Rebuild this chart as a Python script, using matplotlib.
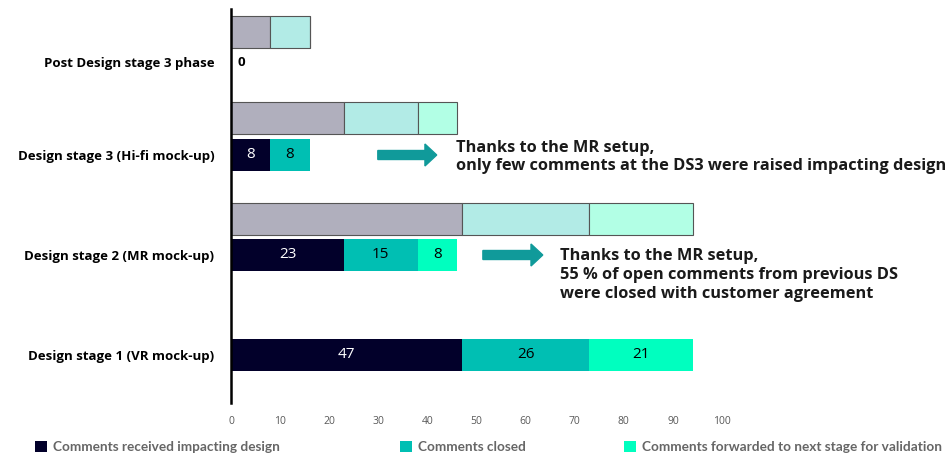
import matplotlib
matplotlib.use('Agg')
import matplotlib.pyplot as plt
from matplotlib.patches import FancyArrow, Patch

# data, bottom row first
stages = ['Design stage 1 (VR mock-up)', 'Design stage 2 (MR mock-up)',
          'Design stage 3 (Hi-fi mock-up)', 'Post Design stage 3 phase']
impacting = [47, 23, 8, 0]
closed = [26, 15, 8, 0]
forwarded = [21, 8, 0, 0]
series_names = ['Comments received impacting design', 'Comments closed',
                'Comments forwarded to next stage for validation']
notes = ['Thanks to the MR setup,\n55 % of open comments from previous DS\nwere closed with customer agreement',
         'Thanks to the MR setup,\nonly few comments at the DS3 were raised impacting design']
xticks = list(range(0, 101, 10))

# layout
row_y = [0, 1, 2, 2.93]
ghost_y = [None, 1.36, 2.37, 3.23]
bar_h = 0.32
colors = ['#02002A', '#00BFB3', '#00FFBF']
ghost_colors = ['#B0AFBD', '#B2EBE6', '#B2FFE5']
label_colors = ['white', 'black', 'black']
arrow_color = '#109A9A'
text_font = ['Open Sans', 'DejaVu Sans']
legend_font = ['Lato', 'DejaVu Sans']

fig = plt.figure(figsize=(9.52, 4.57), dpi=100)
ax = fig.add_axes([231 / 952, 54 / 457, 491 / 952, 394 / 457])

series = [impacting, closed, forwarded]

# current stage bars
left = [0] * len(stages)
for k, vals in enumerate(series):
    ax.barh(row_y, vals, left=left, height=bar_h, color=colors[k], edgecolor='none')
    for i, v in enumerate(vals):
        if v > 0:
            ax.text(left[i] + v / 2, row_y[i], str(v), ha='center', va='center',
                    fontsize=11, color=label_colors[k], family=text_font)
    left = [a + b for a, b in zip(left, vals)]

# zero label for post DS3 row
ax.text(1.3, row_y[3], str(impacting[3] + closed[3] + forwarded[3]), ha='left', va='center',
        fontsize=9.5, fontweight='bold', family=text_font, color='black')

# ghost bars: previous stage repeated above each row
gy = [ghost_y[i] for i in range(1, len(stages))]
gleft = [0] * (len(stages) - 1)
for k, vals in enumerate(series):
    prev = vals[:-1]
    ax.barh(gy, prev, left=gleft, height=bar_h, color=ghost_colors[k],
            edgecolor='#555555', linewidth=0.8)
    gleft = [a + b for a, b in zip(gleft, prev)]

# arrows + notes
ax.add_patch(FancyArrow(51.3, 1.0, 12.2, 0, width=0.09, head_width=0.22, head_length=2.4,
                        length_includes_head=True, color=arrow_color, clip_on=False))
ax.add_patch(FancyArrow(29.9, 2.0, 12.0, 0, width=0.09, head_width=0.22, head_length=2.4,
                        length_includes_head=True, color=arrow_color, clip_on=False))
ax.text(67.0, 0.80, notes[0], ha='left', va='center', fontsize=11.8, fontweight='bold',
        family=text_font, color='#1A1A1A', linespacing=1.25, clip_on=False)
ax.text(45.8, 1.98, notes[1], ha='left', va='center', fontsize=11.8, fontweight='bold',
        family=text_font, color='#1A1A1A', linespacing=1.25, clip_on=False)

ax.set_xlim(0, 100)
ax.set_ylim(-0.48, 3.46)
ax.set_xticks(xticks)
ax.set_xticklabels([str(t) for t in xticks], fontsize=7.5, color='#595959', family=text_font)
ax.set_yticks(row_y)
ax.set_yticklabels(stages, fontsize=9.5, fontweight='bold', family=text_font)
ax.tick_params(axis='x', length=0, pad=9)
ax.tick_params(axis='y', length=0, pad=12)
for s in ['top', 'right', 'bottom']:
    ax.spines[s].set_visible(False)
ax.spines['left'].set_linewidth(1.8)
ax.spines['left'].set_color('black')

# legend, one entry per block
leg_x = [35 / 952, 400 / 952, 624 / 952]
for k in range(3):
    fig.legend(handles=[Patch(facecolor=colors[k], edgecolor='none', label=series_names[k])],
               loc='center left', bbox_to_anchor=(leg_x[k], 10 / 457), frameon=False,
               borderpad=0, borderaxespad=0, handlelength=0.9, handleheight=0.95,
               handletextpad=0.4, prop={'family': legend_font, 'weight': 'bold', 'size': 9.8},
               labelcolor='#666666')

fig.savefig('out.png', dpi=100)
